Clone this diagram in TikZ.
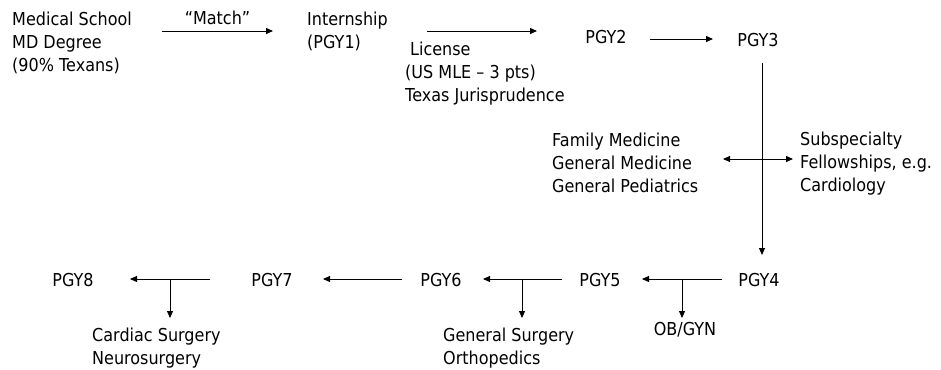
\documentclass[tikz,border=0pt]{standalone}
\usepackage{fontspec}
\setmainfont{DejaVu Sans}[FakeStretch=0.9]
\usetikzlibrary{arrows.meta}
\begin{document}
\begin{tikzpicture}[x=1pt,y=-1pt,
  lbl/.style={inner sep=0pt, font=\fontsize{17.8}{22.8}\selectfont},
  blk/.style={lbl, align=left, anchor=north west},
  arr/.style={-{Triangle[length=7pt,width=6pt]}, line width=0.9pt},
  dbl/.style={{Triangle[length=7pt,width=6pt]}-{Triangle[length=7pt,width=6pt]}, line width=0.9pt},
  ln/.style={line width=0.9pt}]
\useasboundingbox (0,0) rectangle (941,369);
% nodes
\node[blk] (ms) at (12,12) {Medical School\\MD Degree\\(90\% Texans)};
\node[blk] (intern) at (307,12) {Internship\\(PGY1)};
\node[blk] (lic) at (405,42) {\hspace*{5pt}License\\(US MLE – 3 pts)\\Texas Jurisprudence};
\node[lbl] (pgy2) at (606,37.5) {PGY2};
\node[lbl] (pgy3) at (758,40) {PGY3};
\node[blk] (fam) at (552,133) {Family Medicine\\General Medicine\\General Pediatrics};
\node[blk] (sub) at (800,132) {Subspecialty\\Fellowships, e.g.\\Cardiology};
\node[lbl] (pgy4) at (759,280) {PGY4};
\node[lbl] (pgy5) at (600,280) {PGY5};
\node[lbl] (pgy6) at (441,280) {PGY6};
\node[lbl] (pgy7) at (272,280) {PGY7};
\node[lbl] (pgy8) at (73,280) {PGY8};
\node[lbl] (obgyn) at (685,330) {OB/GYN};
\node[blk] (gs) at (443,328) {General Surgery\\Orthopedics};
\node[blk] (cs) at (92,328) {Cardiac Surgery\\Neurosurgery};
% connector end points
\coordinate (a1s) at (162,31); \coordinate (a1e) at (273,31);
\coordinate (a2s) at (427,31); \coordinate (a2e) at (537,31);
\coordinate (a3s) at (650,39); \coordinate (a3e) at (713,39);
\coordinate (vs) at (762,63); \coordinate (ve) at (762,255);
\coordinate (ds) at (723,159); \coordinate (de) at (793,159);
\coordinate (b4s) at (722,279); \coordinate (b4e) at (642,279);
\coordinate (b5s) at (562,279); \coordinate (b5e) at (483,279);
\coordinate (b6s) at (402,279); \coordinate (b6e) at (323,279);
\coordinate (b7s) at (210,279); \coordinate (b7e) at (130,279);
\coordinate (k4) at (682,279); \coordinate (k4e) at (682,318);
\coordinate (k5) at (522,279); \coordinate (k5e) at (522,318);
\coordinate (k7) at (170,279); \coordinate (k7e) at (170,318);
% connectors
\draw[arr] (a1s) -- node[lbl, above=6pt] (match) {“Match”} (a1e);
\draw[arr] (a2s) -- (a2e);
\draw[arr] (a3s) -- (a3e);
\draw[arr] (vs) -- (ve);
\draw[dbl] (ds) -- (de);
\draw[arr] (b4s) -- (b4e);
\draw[arr] (b5s) -- (b5e);
\draw[arr] (b6s) -- (b6e);
\draw[arr] (b7s) -- (b7e);
\draw[arr] (k4) -- (k4e);
\draw[arr] (k5) -- (k5e);
\draw[arr] (k7) -- (k7e);
\end{tikzpicture}
\end{document}
